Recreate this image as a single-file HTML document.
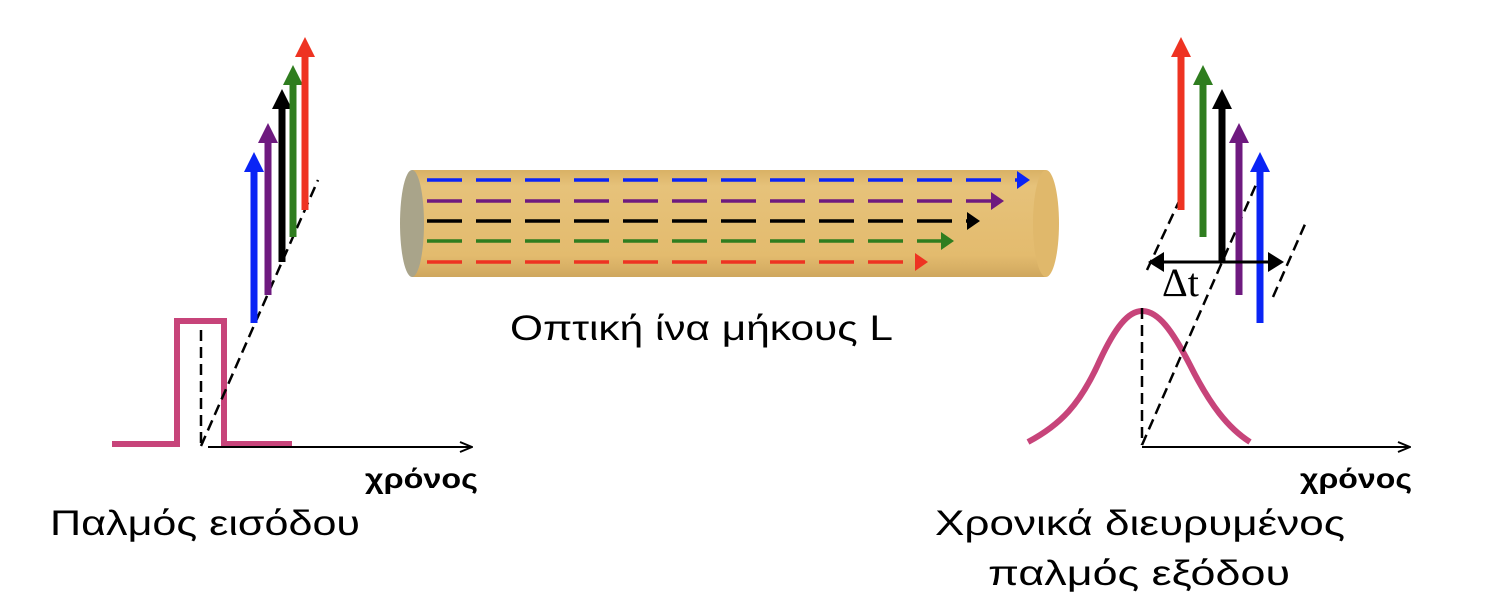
<!DOCTYPE html>
<html><head><meta charset="utf-8"><style>
html,body{margin:0;padding:0;background:#fff;}
svg{display:block;}
text{font-family:"Liberation Sans","DejaVu Sans",sans-serif;}
</style></head><body>
<svg id="fig" width="1496" height="602" viewBox="0 0 1496 602" xmlns="http://www.w3.org/2000/svg">
<defs>
<linearGradient id="cyl" x1="0" y1="0" x2="0" y2="1">
<stop offset="0" stop-color="#d9b165"/><stop offset="0.15" stop-color="#e6c27a"/><stop offset="0.8" stop-color="#e3bb6e"/><stop offset="1" stop-color="#cfa75e"/>
</linearGradient>
<marker id="open" markerWidth="14" markerHeight="12" refX="13" refY="6" orient="auto" markerUnits="userSpaceOnUse"><path d="M1,1 L13,6 L1,11" fill="none" stroke="#000" stroke-width="2"/></marker>
</defs>
<g>
<rect x="412" y="170" width="634" height="107" fill="url(#cyl)"/>
<ellipse cx="1046" cy="223.5" rx="13" ry="53.5" fill="#e0b86b"/>
<ellipse cx="412" cy="223.5" rx="12" ry="53.5" fill="#a9a48a"/>
</g>
<g id="fiberRays"></g>
<text x="510" y="340" font-size="35" textLength="383" lengthAdjust="spacingAndGlyphs">Οπτική ίνα μήκους L</text>

<g>
<path d="M112,444 L177,444 L177,321 L224,321 L224,444 L292,444" fill="none" stroke="#c1306b" stroke-width="6" opacity="0.9"/>
<line x1="201" y1="330" x2="201" y2="446" stroke="#000" stroke-width="2.5" stroke-dasharray="11,6"/>
<line x1="201" y1="446" x2="318" y2="180" stroke="#000" stroke-width="2.5" stroke-dasharray="11,6"/>
<line x1="208" y1="447" x2="472" y2="447" stroke="#000" stroke-width="2" marker-end="url(#open)"/>
<text x="365" y="488" font-size="28" font-weight="bold" textLength="113" lengthAdjust="spacingAndGlyphs">χρόνος</text>
<g id="inArrows"></g>
</g>
<text x="50" y="535" font-size="35" textLength="310" lengthAdjust="spacingAndGlyphs">Παλμός εισόδου</text>

<g>
<path d="M1028,442 C1060,425 1080,405 1100,360 C1115,328 1128,311 1142,311 C1158,311 1172,330 1190,365 C1210,405 1228,428 1250,442" fill="none" stroke="#c1306b" stroke-width="6" opacity="0.9"/>
<line x1="1142" y1="308" x2="1142" y2="445" stroke="#000" stroke-width="2.5" stroke-dasharray="11,6"/>
<line x1="1142" y1="445" x2="1258" y2="180" stroke="#000" stroke-width="2.5" stroke-dasharray="11,6"/>
<line x1="1147" y1="270" x2="1182" y2="195" stroke="#000" stroke-width="2.5" stroke-dasharray="11,6"/>
<line x1="1273" y1="297" x2="1306" y2="222" stroke="#000" stroke-width="2.5" stroke-dasharray="11,6"/>
<line x1="1142" y1="447" x2="1410" y2="447" stroke="#000" stroke-width="2" marker-end="url(#open)"/>
<text x="1300" y="488" font-size="28" font-weight="bold" textLength="112" lengthAdjust="spacingAndGlyphs">χρόνος</text>
<g id="outArrows"></g>
<g>
<line x1="1160" y1="262" x2="1272" y2="262" stroke="#000" stroke-width="3"/>
<polygon points="1148,262 1164,252 1164,272" fill="#000"/>
<polygon points="1284,262 1268,252 1268,272" fill="#000"/>
</g>
<text x="1162" y="296" font-size="40" style="font-family:'Liberation Serif','DejaVu Serif',serif">Δt</text>
</g>
<text x="935" y="535" font-size="35" textLength="410" lengthAdjust="spacingAndGlyphs">Χρονικά διευρυμένος</text>
<text x="988" y="585" font-size="35" textLength="302" lengthAdjust="spacingAndGlyphs">παλμός εξόδου</text>
</svg>
<script>
const colors = ["#0a24f5","#6e1a7f","#000000","#2f7d1f","#ee3322"];
const channelNames = ["blue","purple","black","green","red"];
const inX = [254,268,282,293,305];
const inTop = [152,123,89,65,37];
const inBottom = [323,295,262,237,210];
const outX = [1260,1239,1222,1203,1181];
const rayY = [180,201,221,241,262];
const rayEnd = [1030,1004,980,954,928];
const NS="http://www.w3.org/2000/svg";
function mk(tag,attrs,parent){const e=document.createElementNS(NS,tag);for(const k in attrs)e.setAttribute(k,attrs[k]);parent.appendChild(e);return e;}
function arrow(parent,x,top,bottom,c,name){
  const g=mk('g',{},parent);
  
  
  mk('rect',{x:x-3.5,y:top+18,width:7,height:bottom-top-18,fill:c},g);
  mk('polygon',{points:`${x-10},${top+20} ${x},${top} ${x+10},${top+20}`,fill:c},g);
}
const ia=document.getElementById('inArrows'), oa=document.getElementById('outArrows'), fr=document.getElementById('fiberRays');
for(let i=0;i<colors.length;i++){
  arrow(ia,inX[i],inTop[i],inBottom[i],colors[i],'input-arrow-'+channelNames[i]);
  arrow(oa,outX[i],inTop[i],inBottom[i],colors[i],'output-arrow-'+channelNames[i]);
  const g=mk('g',{},fr);
  
  
  mk('line',{x1:427,y1:rayY[i],x2:rayEnd[i]-12,y2:rayY[i],stroke:colors[i],'stroke-width':3.5,'stroke-dasharray':'35,14'},g);
  mk('polygon',{points:`${rayEnd[i]-13},${rayY[i]-9} ${rayEnd[i]},${rayY[i]} ${rayEnd[i]-13},${rayY[i]+9}`,fill:colors[i]},g);
}
</script>
</body></html>
